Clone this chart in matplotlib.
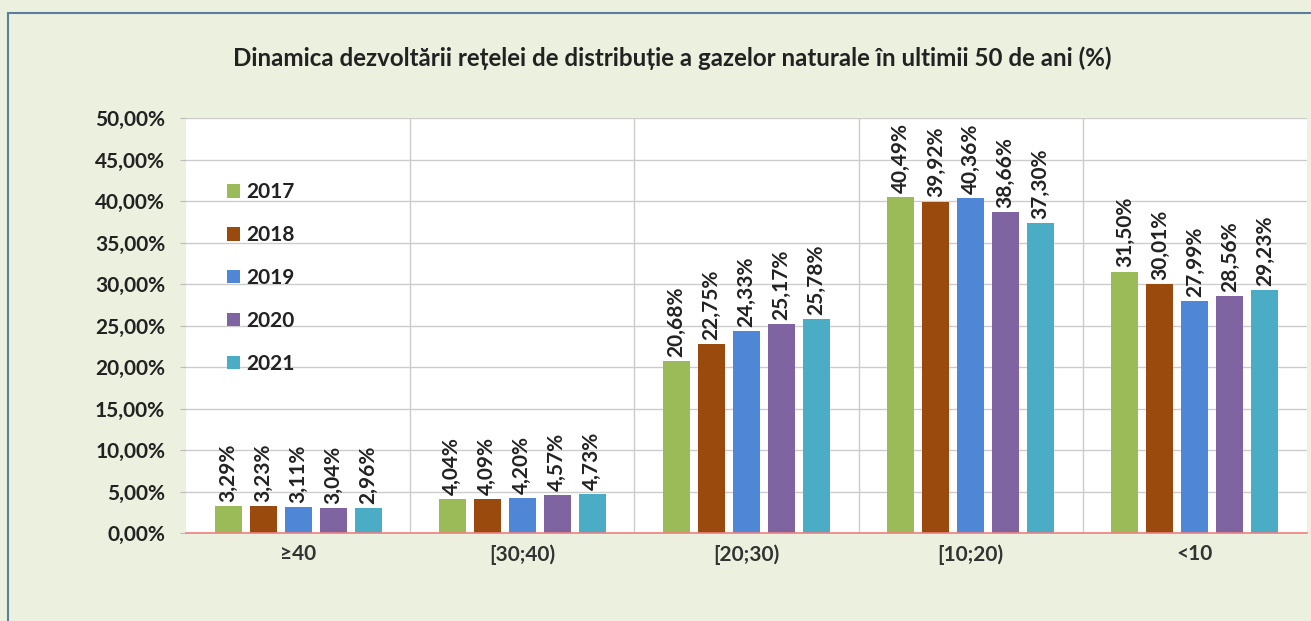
import numpy as np
import matplotlib
matplotlib.use("Agg")
import matplotlib.pyplot as plt
from matplotlib.patches import Rectangle
from matplotlib.ticker import FuncFormatter, MultipleLocator

plt.rcParams['font.family'] = ['Lato', 'DejaVu Sans']

TITLE = "Dinamica dezvoltării rețelei de distribuție a gazelor naturale în ultimii 50 de ani (%)"
CATEGORIES = ["≥40", "[30;40)", "[20;30)", "[10;20)", "<10"]
YEARS = ["2017", "2018", "2019", "2020", "2021"]
V2017 = [3.29, 4.04, 20.68, 40.49, 31.50]
V2018 = [3.23, 4.09, 22.75, 39.92, 30.01]
V2019 = [3.11, 4.20, 24.33, 40.36, 27.99]
V2020 = [3.04, 4.57, 25.17, 38.66, 28.56]
V2021 = [2.96, 4.73, 25.78, 37.30, 29.23]
COLORS = ["#9BBB59", "#9A4A0C", "#4F86D6", "#8064A2", "#4BACC6"]

BG = "#EBF1DE"


def pct(v, decimals=2):
    return f"{v:.{decimals}f}".replace(".", ",") + "%"


def main():
    fig = plt.figure(figsize=(13.11, 6.21), dpi=100, facecolor=BG)
    # outer frame of the chart area
    fig.patches.append(Rectangle((8 / 1311, -0.01), 1.2, 1 - 13 / 621 + 0.01,
                                 transform=fig.transFigure, facecolor="none",
                                 edgecolor="#5B7E9E", linewidth=1.5))
    ax = fig.add_axes([186 / 1311, 88 / 621, 1121 / 1311, 415 / 621])
    ax.set_facecolor("white")

    series = [V2017, V2018, V2019, V2020, V2021]
    x = np.arange(len(CATEGORIES))
    width = 0.12
    step = 0.156
    for i, (year, vals, col) in enumerate(zip(YEARS, series, COLORS)):
        xs = x + (i - 2) * step
        bars = ax.bar(xs, vals, width, color=col, label=year, zorder=3)
        for b, v in zip(bars, vals):
            ax.annotate(pct(v), (b.get_x() + b.get_width() / 2, v),
                        xytext=(0, 3), textcoords="offset points",
                        rotation=90, ha="center", va="bottom",
                        fontsize=15, color="#222222", fontweight="bold")

    ax.set_xlim(-0.5, len(CATEGORIES) - 0.5)
    ax.set_ylim(0, 50)
    ax.yaxis.set_major_locator(MultipleLocator(5))
    ax.yaxis.set_major_formatter(FuncFormatter(lambda v, p: pct(v)))
    ax.set_xticks(x)
    ax.set_xticklabels(CATEGORIES, fontsize=15, fontweight="bold", color="#333333")
    ax.set_xticks(x[:-1] + 0.5, minor=True)
    for lab in ax.get_yticklabels():
        lab.set_fontweight("bold")
        lab.set_fontsize(15)
        lab.set_color("#222222")
    ax.tick_params(axis="y", length=4, pad=11, color="#BBBBBB")
    ax.tick_params(axis="x", which="both", length=0, pad=8)

    ax.grid(axis="y", color="#CCCCCC", linewidth=1, zorder=0)
    ax.grid(axis="x", which="minor", color="#CCCCCC", linewidth=1, zorder=0)
    for s in ["top", "right", "left"]:
        ax.spines[s].set_visible(False)
    ax.spines["bottom"].set_color("#F08080")
    ax.spines["bottom"].set_linewidth(1.2)
    ax.spines["bottom"].set_zorder(4)

    leg = ax.legend(loc="upper left", bbox_to_anchor=(0.0366, 0.845), frameon=False,
                    borderpad=0, borderaxespad=0,
                    handlelength=0.62, handleheight=0.6, handletextpad=0.3,
                    labelspacing=1.1, prop={"weight": "bold", "size": 15})
    for t in leg.get_texts():
        t.set_color("#222222")

    fig.text(0.513, 1 - 58 / 621, TITLE, ha="center", va="center",
             fontsize=17.4, fontweight="bold", color="#222222")

    fig.savefig("out.png", dpi=100, facecolor=BG)


if __name__ == '__main__':
    main()
